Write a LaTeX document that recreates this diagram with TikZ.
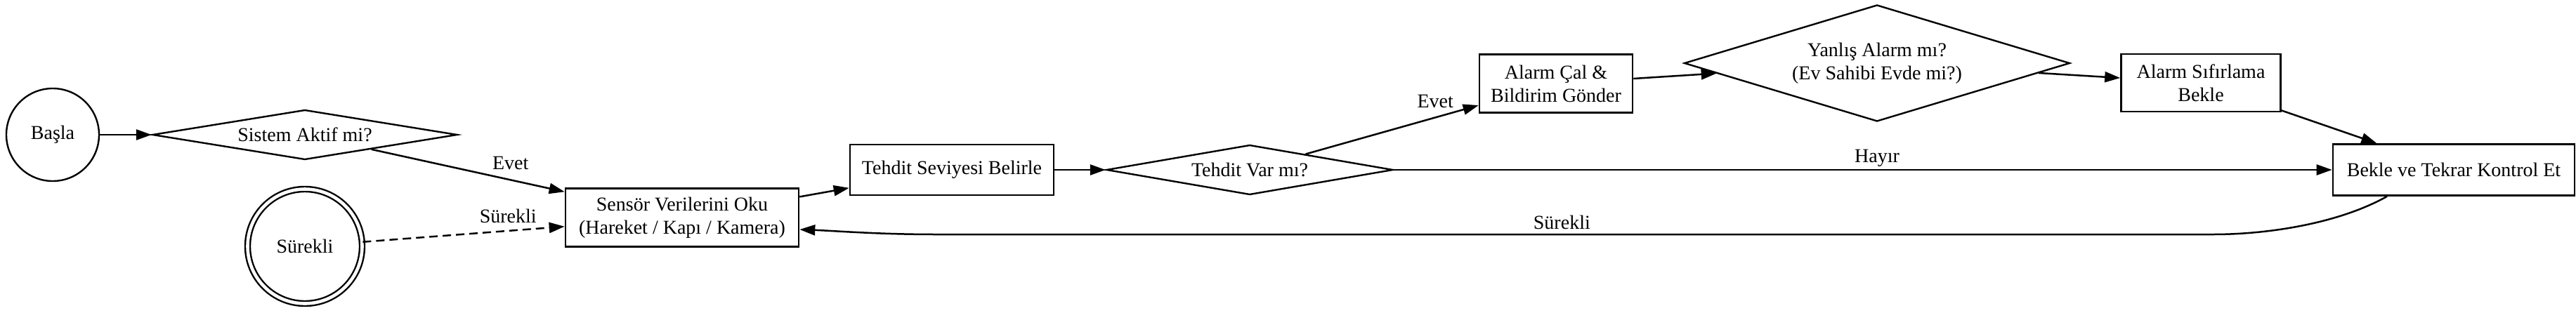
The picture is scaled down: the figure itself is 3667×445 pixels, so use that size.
\documentclass[tikz,border=0pt]{standalone}
\usepackage{fontspec}
\setmainfont{Liberation Serif}
\usetikzlibrary{shapes.geometric,arrows.meta}
\tikzset{
  every node/.style={font=\fontsize{28}{33}\selectfont},
  box/.style={draw, rectangle, line width=2.6pt, inner sep=0pt, align=center},
  dia/.style={draw, diamond, line width=2.4pt, inner sep=0pt, align=center},
  circ/.style={draw, circle, line width=2.4pt, inner sep=0pt},
  arr/.style={line width=2.5pt, -{Triangle[length=22pt,width=15pt]}},
  lbl/.style={inner sep=2pt},
}
\begin{document}
\begin{tikzpicture}[x=1pt,y=-1pt]
\useasboundingbox (0,0) rectangle (3667,445);
\node[circ, minimum size=132pt] (basla) at (75,192) {Başla};
\node[dia, aspect=6.1, minimum width=434pt, minimum height=71pt] (sistem) at (434,192) {Sistem Aktif mi?};
\node[circ, double, double distance=4.6pt, minimum size=163pt] (surekli) at (434,351) {Sürekli};
\node[box, minimum width=332pt, minimum height=83pt] (sensor) at (971,310) {Sensör Verilerini Oku\\(Hareket / Kapı / Kamera)};
\node[box, minimum width=290pt, minimum height=72pt] (seviye) at (1355,242) {Tehdit Seviyesi Belirle};
\node[dia, aspect=5.75, minimum width=408pt, minimum height=71pt] (var) at (1779,242) {Tehdit Var mı?};
\node[box, minimum width=218pt, minimum height=83pt] (alarm) at (2215,119) {Alarm Çal \&\\Bildirim Gönder};
\node[dia, aspect=3.3, minimum width=549pt, minimum height=166pt] (yanlis) at (2672,90) {Yanlış Alarm mı?\\(Ev Sahibi Evde mi?)};
\node[box, minimum width=227pt, minimum height=82pt] (sifir) at (3133,118) {Alarm Sıfırlama\\Bekle};
\node[box, minimum width=344pt, minimum height=73pt] (bekle) at (3493,242) {Bekle ve Tekrar Kontrol Et};

\draw[arr] (basla) -- (sistem);
\draw[arr] (sistem) -- node[lbl, pos=0.72, above=11pt] {Evet} (sensor);
\draw[arr, dash pattern=on 12pt off 7pt] (surekli) -- node[lbl, pos=0.72, above=8pt] {Sürekli} (sensor);
\draw[arr] (sensor) -- (seviye);
\draw[arr] (seviye) -- (var);
\draw[arr] (var) -- node[lbl, pos=0.75, above=10pt] {Evet} (alarm);
\draw[arr] (var) -- node[lbl, pos=0.515, above=1pt] {Hayır} (bekle);
\draw[arr] (alarm) -- (yanlis);
\draw[arr] (yanlis) -- (sifir);
\draw[arr] (sifir) -- (bekle);
\coordinate (c1) at (3150,334);
\coordinate (c2) at (1333,334);
\draw[arr] ([xshift=-95pt]bekle.south) .. controls (3330,318) and (3230,334) .. (c1)
  -- node[lbl, pos=0.51, above=4pt] {Sürekli} (c2)
  .. controls (1250,334) and (1190,329) .. ([yshift=-17pt]sensor.east);
\end{tikzpicture}
\end{document}
